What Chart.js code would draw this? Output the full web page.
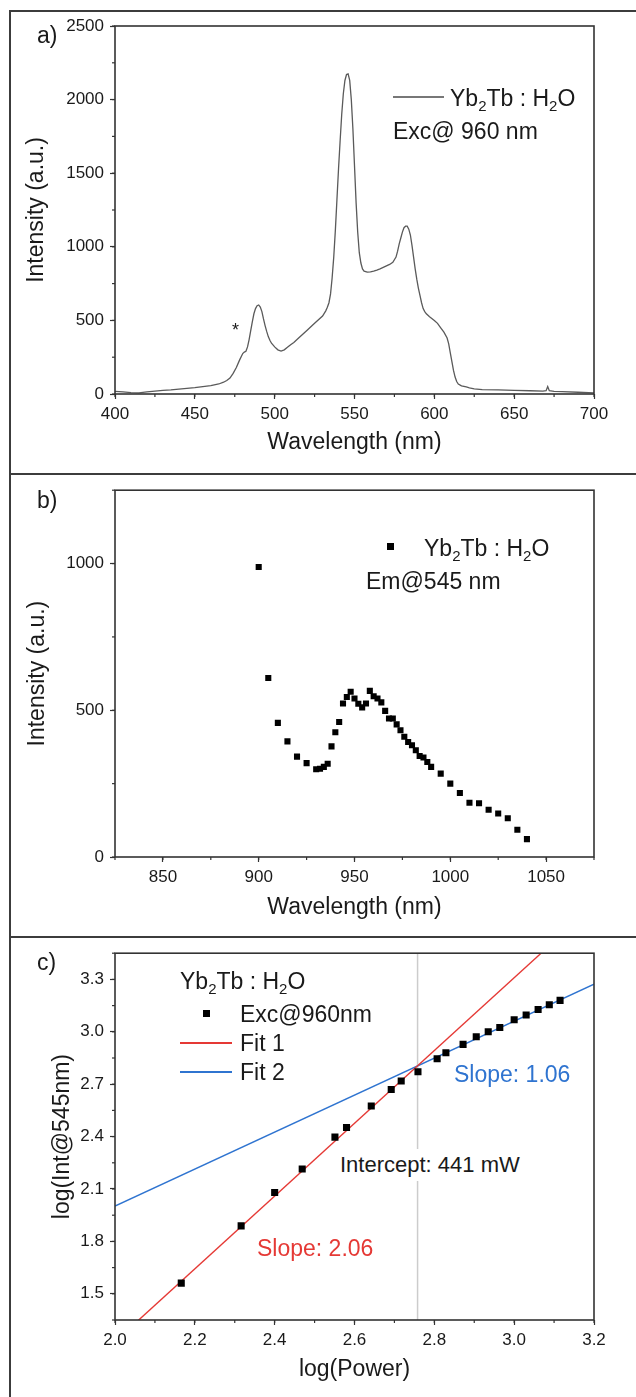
<!DOCTYPE html>
<html><head><meta charset="utf-8">
<script src="https://cdn.jsdelivr.net/npm/chart.js@4.4.1/dist/chart.umd.min.js"></script>
<style>
body{margin:0;background:#fff;}
#wrap{position:relative;width:636px;height:1397px;overflow:hidden;background:#fff;font-family:"Liberation Sans",Arial,sans-serif;color:#1a1a1a;}
canvas{position:absolute;left:0;}
.hl{position:absolute;background:#3c3c3c;height:2px;}
.vl{position:absolute;background:#3c3c3c;width:2px;}
.t{position:absolute;font-size:23px;line-height:1;white-space:nowrap;transform:translateY(-50%);z-index:5;}
.t sub{font-size:15px;vertical-align:-5px;line-height:0;}
.sq{position:absolute;width:7px;height:7px;background:#000;z-index:5;}
.ln{position:absolute;height:1.5px;z-index:5;}
</style></head>
<body>
<div id="wrap">
  <div class="hl" style="left:10px;top:10px;width:626px;"></div>
  <div class="vl" style="left:9px;top:10px;height:1387px;"></div>
  <div class="hl" style="left:10px;top:473px;width:626px;"></div>
  <div class="hl" style="left:10px;top:936px;width:626px;"></div>

  <canvas id="ca" width="636" height="474" style="top:0px"></canvas>
  <canvas id="cb" width="636" height="463" style="top:474px"></canvas>
  <canvas id="cc" width="636" height="460" style="top:937px"></canvas>

  <div class="t" style="left:37px;top:35px;">a)</div>
  <div class="ln" style="left:393px;top:96px;width:51px;background:#777;"></div>
  <div class="t" style="left:450px;top:98px;">Yb<sub>2</sub>Tb : H<sub>2</sub>O</div>
  <div class="t" style="left:393px;top:131px;">Exc@ 960 nm</div>
  <div class="t" style="left:232px;top:330px;font-size:18px;">*</div>

  <div class="t" style="left:37px;top:500px;">b)</div>
  <div class="sq" style="left:387px;top:543px;"></div>
  <div class="t" style="left:424px;top:548px;">Yb<sub>2</sub>Tb : H<sub>2</sub>O</div>
  <div class="t" style="left:366px;top:581px;">Em@545 nm</div>

  <div class="t" style="left:37px;top:962px;">c)</div>
  <div class="t" style="left:180px;top:981px;">Yb<sub>2</sub>Tb : H<sub>2</sub>O</div>
  <div class="sq" style="left:203px;top:1010px;"></div>
  <div class="t" style="left:240px;top:1014px;">Exc@960nm</div>
  <div class="ln" style="left:180px;top:1042px;width:52px;background:#e53935;"></div>
  <div class="t" style="left:240px;top:1043px;">Fit 1</div>
  <div class="ln" style="left:180px;top:1071px;width:52px;background:#2f74d0;"></div>
  <div class="t" style="left:240px;top:1072px;">Fit 2</div>
  <div class="t" style="left:454px;top:1074px;color:#2f74d0;">Slope: 1.06</div>
  <div class="t" style="left:338px;top:1165px;background:#fff;padding:5px 2px;font-size:22px;">Intercept: 441 mW</div>
  <div class="t" style="left:257px;top:1248px;color:#e53935;">Slope: 2.06</div>
</div>
<script>
// ---- Panel a: emission spectrum (Exc @ 960 nm)
const specWl = [400,405,410,415,420,425,430,435,440,445,450,455,460,465,468,470,472,474,476,478,480,481,482,483,484,485,486,487,488,489,490,491,492,493,494,495,496,497,498,500,502,504,506,508,510,512,515,520,525,530,532,533,534,535,536,537,538,539,540,541,542,543,544,545,546,547,548,549,550,551,552,553,554,555,556,558,560,562,564,566,568,570,572,574,576,577,578,579,580,581,582,583,584,585,586,587,588,589,590,591,592,593,594,595,597,600,602,604,606,608,609,610,611,612,613,614,615,617,620,622,625,630,640,650,660,668,670,671,672,675,680,690,700];
const specInt = [18,15,10,8,14,20,25,28,33,38,43,50,57,68,80,92,108,140,180,230,275,285,290,320,370,430,490,545,580,600,605,590,560,510,465,425,390,365,345,320,300,292,300,318,335,350,380,430,480,530,565,590,620,680,790,930,1110,1320,1530,1720,1900,2040,2130,2170,2175,2130,2000,1800,1550,1300,1100,960,890,850,835,828,830,835,842,850,860,870,880,895,930,970,1020,1060,1100,1130,1140,1140,1120,1080,1010,930,850,780,720,670,620,580,560,545,525,500,480,450,420,380,340,280,220,160,115,85,68,55,48,42,35,30,28,25,22,20,22,50,22,18,16,12,8];
const aXRange = [400, 700], aXTicks = [400,450,500,550,600,650,700], aXMinor = 25;
const aYRange = [0, 2500], aYTicks = [0,500,1000,1500,2000,2500], aYMinor = 250;

// ---- Panel b: excitation spectrum (Em @ 545 nm)
const exWl = [900,905,910,915,920,925,930,932,934,936,938,940,942,944,946,948,950,952,954,956,958,960,962,964,966,968,970,972,974,976,978,980,982,984,986,988,990,995,1000,1005,1010,1015,1020,1025,1030,1035,1040];
const exInt = [988,610,457,394,342,320,299,301,307,318,377,425,460,523,545,563,540,522,510,523,566,548,540,527,498,472,472,452,432,410,392,381,364,344,339,324,307,284,250,218,185,183,161,148,132,93,61];
const bXRange = [825, 1075], bXTicks = [850,900,950,1000,1050], bXMinor = 25;
const bYRange = [0, 1250], bYTicks = [0,500,1000], bYMinor = 250;

// ---- Panel c: power dependence (log-log)
const logPower = [2.166,2.316,2.400,2.469,2.551,2.580,2.642,2.692,2.717,2.759,2.807,2.829,2.872,2.905,2.935,2.964,3.000,3.030,3.060,3.088,3.115];
const logInt = [1.561,1.889,2.080,2.214,2.397,2.452,2.575,2.670,2.718,2.771,2.846,2.880,2.928,2.972,3.000,3.025,3.069,3.096,3.128,3.155,3.180];
const fit1X = [2.058,3.068], fit1Y = [1.347,3.451];
const fit2X = [2.0,3.2], fit2Y = [2.002,3.273];
const interceptX = [2.758,2.758], interceptY = [1.35,3.45];
const cXRange = [2.0, 3.2], cXTicks = [2.0,2.2,2.4,2.6,2.8,3.0,3.2], cXMinor = 0.1;
const cYRange = [1.35, 3.45], cYTicks = [1.5,1.8,2.1,2.4,2.7,3.0,3.3], cYMinor = 0.15;

const FONT = '"Liberation Sans", Arial, sans-serif';
const INK = '#333';

const framePlugin = {
  id:'frameMinor',
  afterDraw(chart, args, opts){
    const ctx = chart.ctx, a = chart.chartArea;
    const xs = chart.scales.x, ys = chart.scales.y;
    ctx.save();
    ctx.strokeStyle = INK;
    ctx.lineWidth = 1.2;
    const drawMinor = (scale, step, horiz) => {
      const n0 = Math.ceil(scale.min/step - 1e-6), n1 = Math.floor(scale.max/step + 1e-6);
      for (let n=n0; n<=n1; n++){
        const p = scale.getPixelForValue(n*step);
        ctx.beginPath();
        if (horiz){ ctx.moveTo(p, a.bottom); ctx.lineTo(p, a.bottom+3); }
        else { ctx.moveTo(a.left, p); ctx.lineTo(a.left-3, p); }
        ctx.stroke();
      }
    };
    drawMinor(xs, opts.xMinor, true);
    drawMinor(ys, opts.yMinor, false);
    ctx.lineWidth = 1.6;
    ctx.strokeRect(a.left, a.top, a.right-a.left, a.bottom-a.top);
    ctx.restore();
  }
};

function axis(range, tickVals, title, titlePad, fit, isX, decimals){
  return {
    type:'linear', min:range[0], max:range[1],
    afterBuildTicks: s => { s.ticks = tickVals.map(v => ({value:v})); },
    afterFit: s => { if (isX) s.height = fit; else s.width = fit; },
    grid:{display:true, drawOnChartArea:false, drawTicks:true, tickLength:5, tickColor:INK, tickWidth:1.2},
    border:{display:false},
    ticks:{padding:isX?5:6, color:'#1a1a1a', autoSkip:false, maxRotation:0,
      font:{family:FONT, size:17},
      callback: v => decimals ? Number(v).toFixed(decimals) : String(Math.round(v))},
    title:{display:true, text:title, color:'#1a1a1a', font:{family:FONT, size:23}, padding:titlePad}
  };
}

function base(padTop, xAxis, yAxis, minorX, minorY){
  return {
    responsive:false, animation:false, devicePixelRatio:1,
    layout:{padding:{top:padTop, right:42, left:0, bottom:0}},
    plugins:{legend:{display:false}, tooltip:{enabled:false}, frameMinor:{xMinor:minorX, yMinor:minorY}},
    scales:{x:xAxis, y:yAxis}
  };
}

const toPts = (xs, ys) => xs.map((x,i)=>({x, y:ys[i]}));

new Chart(document.getElementById('ca'), {
  type:'line',
  data:{datasets:[{data:toPts(specWl, specInt), borderColor:'#5a5a5a', borderWidth:1.3, pointRadius:0, tension:0, fill:false}]},
  options:base(26,
    axis(aXRange, aXTicks, 'Wavelength (nm)', {bottom:18}, 80, true, 0),
    axis(aYRange, aYTicks, 'Intensity (a.u.)', {top:23}, 115, false, 0),
    aXMinor, aYMinor),
  plugins:[framePlugin]
});

new Chart(document.getElementById('cb'), {
  type:'scatter',
  data:{datasets:[{data:toPts(exWl, exInt), pointStyle:'rect', pointRadius:4.3, backgroundColor:'#000', borderColor:'#000', borderWidth:0}]},
  options:base(15,
    axis(bXRange, bXTicks, 'Wavelength (nm)', {bottom:16}, 80, true, 0),
    axis(bYRange, bYTicks, 'Intensity (a.u.)', {top:24}, 115, false, 0),
    bXMinor, bYMinor),
  plugins:[framePlugin]
});

new Chart(document.getElementById('cc'), {
  type:'scatter',
  data:{datasets:[
    {data:toPts(logPower, logInt), pointStyle:'rect', pointRadius:5, backgroundColor:'#000', borderColor:'#000', borderWidth:0, order:0},
    {type:'line', data:toPts(fit1X, fit1Y), borderColor:'#e53935', borderWidth:1.4, pointRadius:0, order:2},
    {type:'line', data:toPts(fit2X, fit2Y), borderColor:'#2f74d0', borderWidth:1.4, pointRadius:0, order:2},
    {type:'line', data:toPts(interceptX, interceptY), borderColor:'#cccccc', borderWidth:1.5, pointRadius:0, order:3}
  ]},
  options:base(15,
    axis(cXRange, cXTicks, 'log(Power)', {bottom:14}, 77, true, 1),
    axis(cYRange, cYTicks, 'log(Int@545nm)', {top:49}, 115, false, 1),
    cXMinor, cYMinor),
  plugins:[framePlugin]
});
</script>
</body></html>
